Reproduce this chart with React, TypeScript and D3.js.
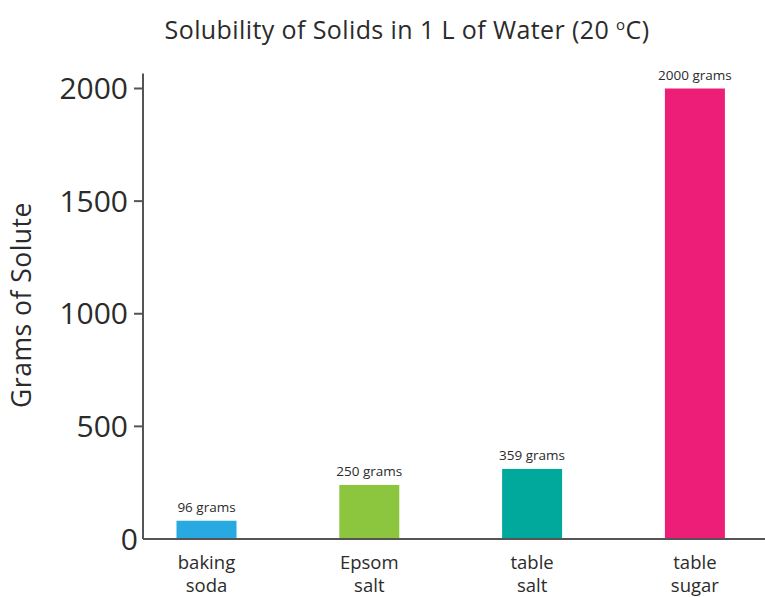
import React from "react";
import * as d3 from "d3";

const categories = ["baking soda", "Epsom salt", "table salt", "table sugar"];
const categoryLines = [["baking", "soda"], ["Epsom", "salt"], ["table", "salt"], ["table", "sugar"]];
const barValues = [81, 240, 311, 2000];
const labelValues = [96, 250, 359, 2000];
const colors = ["#29a9e1", "#8cc63e", "#00a99c", "#ec1e78"];
const yTicks = [0, 500, 1000, 1500, 2000];

const W = 765;
const H = 597;
const FONT = "'Open Sans', 'Noto Sans', sans-serif";
const TEXT = "#2b2b2b";

export default function App() {
  const axisX = 143;
  const baseY = 539;
  const y = d3.scaleLinear().domain([0, 2000]).range([baseY, 88.5]);
  const x = d3
    .scaleBand<string>()
    .domain(categories)
    .range([125.1, 776.3])
    .paddingInner(0.6314)
    .paddingOuter(0.3157);

  return (
    <svg
      width={W}
      height={H}
      style={{ position: "absolute", left: 0, top: 0, background: "#fff" }}
      fontFamily={FONT}
    >
      <text x={407} y={39} textAnchor="middle" fontSize={25} letterSpacing={0.4} fill={TEXT}>
        Solubility of Solids in 1 L of Water (20{" "}
        <tspan dy={-9} fontSize={15}>o</tspan>
        <tspan dy={9}>C)</tspan>
      </text>

      <text
        transform={`translate(31,${305}) rotate(-90)`}
        textAnchor="middle"
        fontSize={26.5}
        letterSpacing={0.5}
        fill={TEXT}
      >
        Grams of Solute
      </text>

      {barValues.map((v, i) => (
        <g key={categories[i]}>
          <rect
            x={x(categories[i])}
            y={y(v)}
            width={x.bandwidth()}
            height={baseY - y(v)}
            fill={colors[i]}
          />
          <text
            x={(x(categories[i]) as number) + x.bandwidth() / 2}
            y={y(v) - 9}
            textAnchor="middle"
            fontSize={13.5}
            fill={TEXT}
          >
            {`${labelValues[i]} grams`}
          </text>
          {categoryLines[i].map((ln, j) => (
            <text
              key={j}
              x={(x(categories[i]) as number) + x.bandwidth() / 2}
              y={569 + j * 23}
              textAnchor="middle"
              fontSize={18.5}
              fill={TEXT}
            >
              {ln}
            </text>
          ))}
        </g>
      ))}

      {yTicks.map((t) => (
        <g key={t}>
          {t !== 0 && (
            <line x1={axisX - 9} x2={axisX} y1={y(t)} y2={y(t)} stroke="#555" strokeWidth={2} />
          )}
          <text
            x={t === 0 ? 138 : 128}
            y={y(t) + 10.5}
            textAnchor="end"
            fontSize={30}
            fill={TEXT}
          >
            {t}
          </text>
        </g>
      ))}

      <line x1={axisX} x2={axisX} y1={73.5} y2={baseY} stroke="#555" strokeWidth={2} />
      <line x1={axisX} x2={W} y1={baseY} y2={baseY} stroke="#555" strokeWidth={2} />
    </svg>
  );
}
